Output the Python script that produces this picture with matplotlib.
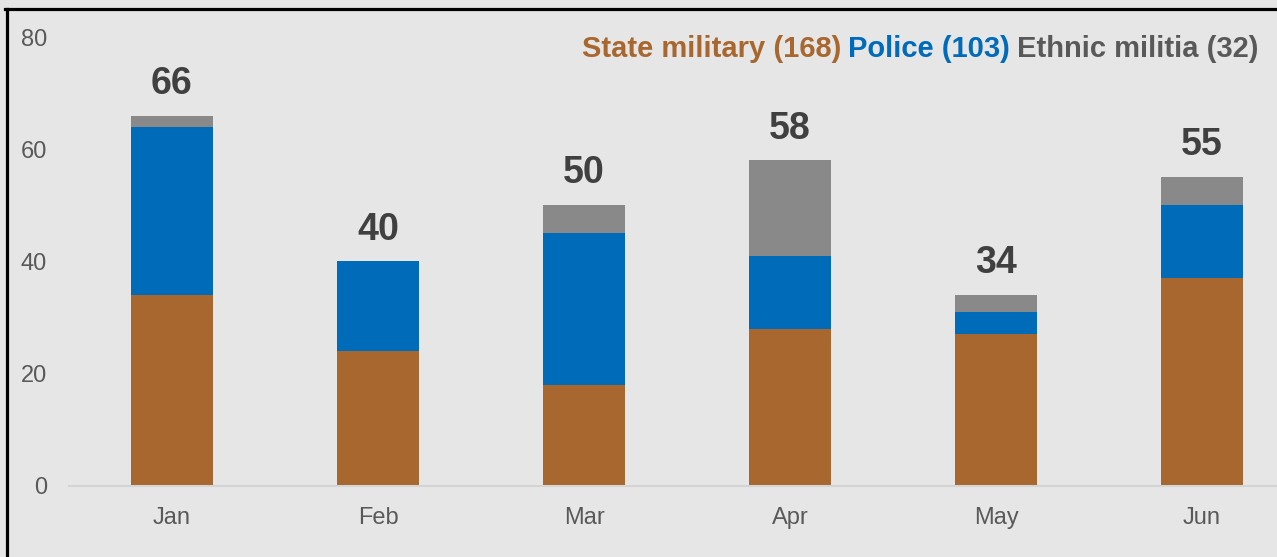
import numpy as np
import matplotlib
matplotlib.use("Agg")
import matplotlib.pyplot as plt
from matplotlib.lines import Line2D
from matplotlib.offsetbox import TextArea, HPacker, AnchoredOffsetbox

months = ['Jan', 'Feb', 'Mar', 'Apr', 'May', 'Jun']
military = [34, 24, 18, 28, 27, 37]
police = [30, 16, 27, 13, 4, 13]
militia = [2, 0, 5, 17, 3, 5]
series_names = ['State military', 'Police', 'Ethnic militia']

c_mil = '#a8672f'
c_pol = '#006bb8'
c_eth = '#898989'
bg = '#e6e6e6'

plt.rcParams['font.family'] = ['Liberation Sans Narrow', 'Liberation Sans', 'DejaVu Sans']

W, H = 1277, 557
fig = plt.figure(figsize=(W / 100, H / 100), dpi=100, facecolor=bg)
ax = fig.add_axes([69 / W, (H - 486) / H, (W - 69) / W, (486 - 37) / H])
ax.set_facecolor(bg)

x = np.arange(len(months))
mil = np.array(military)
pol = np.array(police)
eth = np.array(militia)
ax.bar(x, mil, width=0.4, color=c_mil)
ax.bar(x, pol, width=0.4, bottom=mil, color=c_pol)
ax.bar(x, eth, width=0.4, bottom=mil + pol, color=c_eth)

totals = mil + pol + eth
for xi, t in zip(x, totals):
    ax.annotate(str(t), (xi, t), xytext=(0, 10), textcoords='offset points',
                ha='center', va='bottom', fontsize=27, fontweight='bold',
                color='#404040')

ax.set_xlim(-0.5, 5 + (W - 1202) / 206)
ax.set_ylim(0, 80)
ax.set_yticks([0, 20, 40, 60, 80])
ax.set_xticks(x)
ax.set_xticklabels(months)
ax.tick_params(axis='both', length=0, labelsize=17, labelcolor='#595959')
ax.tick_params(axis='y', pad=16)
ax.tick_params(axis='x', pad=15)
for s in ['top', 'right', 'left']:
    ax.spines[s].set_visible(False)
ax.spines['bottom'].set_color('#d4d4d4')
ax.spines['bottom'].set_linewidth(1.5)

# legend line of coloured text
sums = [sum(military), sum(police), sum(militia)]
cols = [c_mil, c_pol, '#595959']
areas = [TextArea(f'{n} ({s})', textprops=dict(color=c, fontsize=21, fontweight='bold'))
         for n, s, c in zip(series_names, sums, cols)]
box = HPacker(children=areas, align='baseline', pad=0, sep=5)
anch = AnchoredOffsetbox(loc='upper right', child=box, frameon=False,
                         bbox_to_anchor=(1264 / W, (H - 29) / H),
                         bbox_transform=fig.transFigure, borderpad=0)
fig.add_artist(anch)

# frame lines
fig.add_artist(Line2D([6.5 / W, 6.5 / W], [0, (H - 8.5) / H], color='black', lw=2.3,
                      transform=fig.transFigure))
fig.add_artist(Line2D([5 / W, 1], [(H - 8.5) / H, (H - 8.5) / H], color='black', lw=2.3,
                      transform=fig.transFigure))

fig.savefig('out.png', dpi=100, facecolor=bg)
